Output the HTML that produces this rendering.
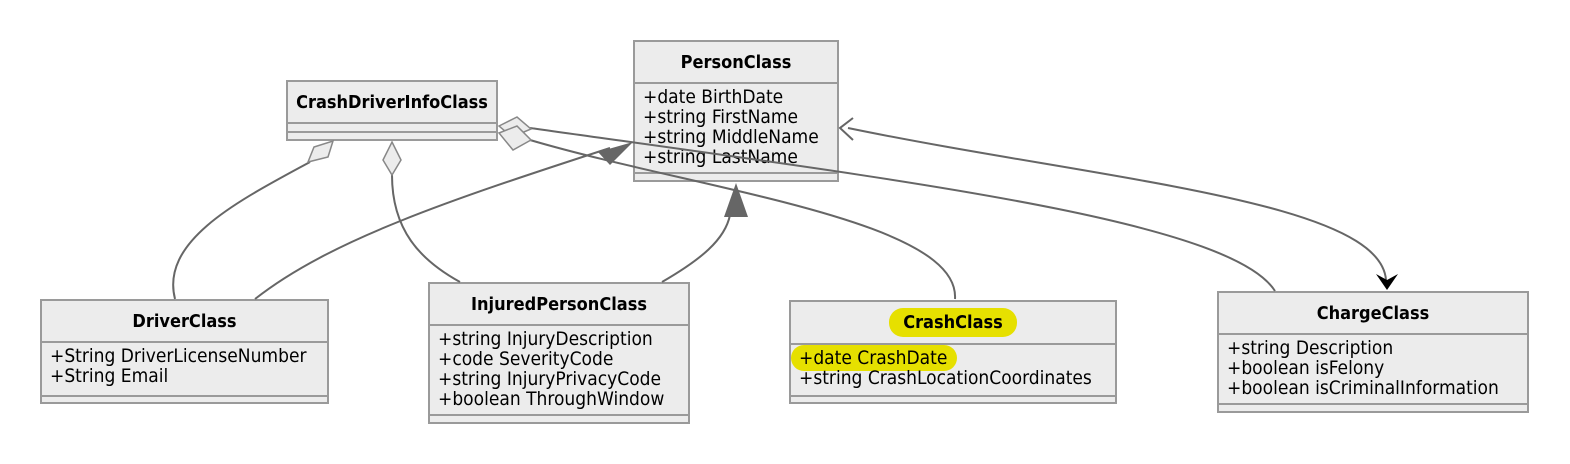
<!DOCTYPE html>
<html><head><meta charset="utf-8"><style>
body{margin:0;width:1570px;height:464px;background:#fff;position:relative;overflow:hidden;font-family:"DejaVu Sans Condensed","Liberation Sans",sans-serif;color:#000}
.c{position:absolute;background:#ececec;border:2px solid #9a9a9a;box-sizing:border-box}
.h{text-align:center;font-weight:bold;font-size:18px;border-bottom:2px solid #9a9a9a;box-sizing:border-box;display:flex;align-items:center;justify-content:center}
.a{font-size:19px;line-height:20px;padding:3px 8px 0 8px;border-bottom:2px solid #9a9a9a;box-sizing:border-box;white-space:nowrap}
svg{position:absolute;left:0;top:0}
.hl{background:#e6e000;border-radius:14px}
</style></head><body>
<div class="c" style="left:286px;top:80px;width:212px;height:61px"><div class="h" style="height:42px">CrashDriverInfoClass</div><div class="a" style="height:9px;padding:0"></div></div>
<div class="c" style="left:633px;top:40px;width:206px;height:142px"><div class="h" style="height:42px">PersonClass</div><div class="a" style="height:90px">+date BirthDate<br>+string FirstName<br>+string MiddleName<br>+string LastName</div></div>
<div class="c" style="left:40px;top:299px;width:289px;height:105px"><div class="h" style="height:42px">DriverClass</div><div class="a" style="height:54px">+String DriverLicenseNumber<br>+String Email</div></div>
<div class="c" style="left:428px;top:282px;width:262px;height:142px"><div class="h" style="height:42px">InjuredPersonClass</div><div class="a" style="height:90px">+string InjuryDescription<br>+code SeverityCode<br>+string InjuryPrivacyCode<br>+boolean ThroughWindow</div></div>
<div class="c" style="left:789px;top:300px;width:328px;height:104px"><div class="h" style="height:43px"><span class="hl" style="padding:4px 14px">CrashClass</span></div><div class="a" style="height:52px;padding-left:0"><span class="hl" style="padding:2px 10px 2px 8px">+date CrashDate</span><br><span style="padding-left:8px">+string CrashLocationCoordinates</span></div></div>
<div class="c" style="left:1217px;top:291px;width:312px;height:122px"><div class="h" style="height:42px">ChargeClass</div><div class="a" style="height:70px">+string Description<br>+boolean isFelony<br>+boolean isCriminalInformation</div></div>
<svg width="1570" height="464">
<g fill="none" stroke="#666" stroke-width="2">
<path d="M310 162 C240 200,160 240,175 299"/>
<path d="M392 175 C392 230,420 260,460 282"/>
<path d="M530 140 C700 190,960 220,955 299"/>
<path d="M530 128 C900 180,1230 220,1275 291"/>
<path d="M255 299 C330 240,450 200,610 148"/>
<path d="M662 282 C700 260,725 240,730 215"/>
<path d="M848 128 C1100 180,1380 200,1386 280"/>
<path d="M853 118 L840 128 L853 140"/>
</g>
<g fill="#ececec" stroke="#888" stroke-width="1.5">
<polygon points="333,141 328,157 308,162 314,147"/>
<polygon points="392,142 401,160 392,175 383,160"/>
<polygon points="499,126 517,117 531,129 512,137"/>
<polygon points="499,133 517,126 531,140 513,150"/>
</g>
<g fill="#666">
<polygon points="633,142 598,152 610,165"/>
<polygon points="736,183 724,217 748,217"/>
</g>
<polygon points="1376,274 1387,290 1398,274 1387,280" fill="#000"/>
</svg>
</body></html>
